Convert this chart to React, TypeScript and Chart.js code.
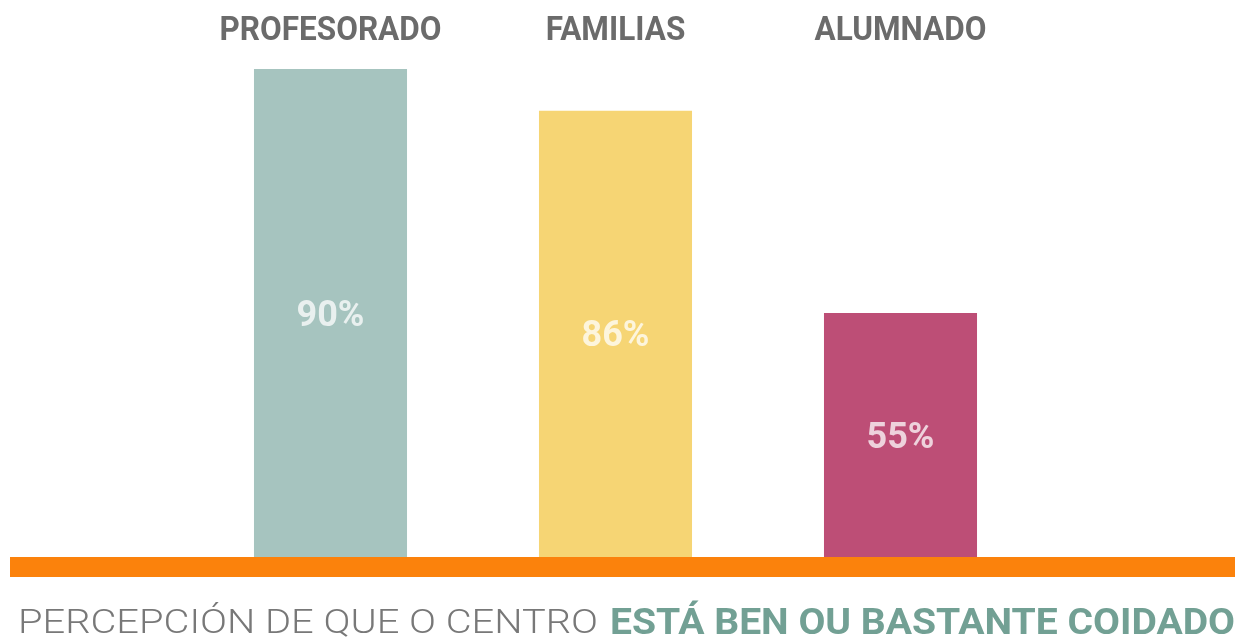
import React, { useEffect, useRef } from "react";
import { Chart, registerables } from "chart.js";

Chart.register(...registerables);

const categories = ["PROFESORADO", "FAMILIAS", "ALUMNADO"];
const percentLabels = ["90%", "86%", "55%"];
// bar heights as drawn in the picture (relative units, tallest bar = 90)
const barValues = [90, 82.3, 45];
const barColors = ["#a6c4bf", "#f6d574", "#bd4e76"];
const captionLight = "PERCEPCIÓN DE QUE O CENTRO";
const captionBold = "ESTÁ BEN OU BASTANTE COIDADO";

function drawCondensed(ctx: any, text: string, x: number, y: number, sx: number, align: string) {
  const w = ctx.measureText(text).width * sx;
  let left = x;
  if (align === "center") left = x - w / 2;
  ctx.save();
  ctx.translate(left, y);
  ctx.scale(sx, 1);
  ctx.textAlign = "left";
  ctx.fillText(text, 0, 0);
  ctx.restore();
}

const valueLabelPlugin = {
  id: "valueLabels",
  afterDatasetsDraw(chart: any) {
    const ctx = chart.ctx;
    const meta = chart.getDatasetMeta(0);
    ctx.save();
    ctx.font = 'bold 36px Roboto';
    ctx.fillStyle = "rgba(255,255,255,0.75)";
    ctx.textAlign = "center";
    ctx.textBaseline = "alphabetic";
    meta.data.forEach((bar: any, i: number) => {
      const cy = (bar.y + bar.base) / 2;
      ctx.fillText(percentLabels[i], bar.x, cy + 12.5);
    });
    ctx.restore();
  },
};

const categoryLabelPlugin = {
  id: "categoryLabels",
  afterDraw(chart: any) {
    const ctx = chart.ctx;
    const xs = chart.scales.x;
    ctx.save();
    ctx.font = 'bold 33px Roboto';
    ctx.fillStyle = "#6b6b6b";
    ctx.textBaseline = "alphabetic";
    const sx = 222 / ctx.measureText(categories[0]).width;
    categories.forEach((c, i) => {
      drawCondensed(ctx, c, xs.getPixelForTick(i), 40, sx, "center");
    });
    ctx.restore();
  },
};

const decorPlugin = {
  id: "decor",
  afterDraw(chart: any) {
    const ctx = chart.ctx;
    const area = chart.chartArea;
    ctx.save();
    // orange base band
    ctx.fillStyle = "#fb820c";
    ctx.fillRect(10, area.bottom, 1225, 20);
    // caption
    ctx.textBaseline = "alphabetic";
    ctx.font = '300 34px Roboto';
    ctx.fillStyle = "#787878";
    drawCondensed(ctx, captionLight, 18, 632.5, 580 / ctx.measureText(captionLight).width, "left");
    ctx.font = 'bold 36px Roboto';
    ctx.fillStyle = "#72a094";
    drawCondensed(ctx, captionBold, 610, 634, 625 / ctx.measureText(captionBold).width, "left");
    ctx.restore();
  },
};

export default function App() {
  const ref = useRef<HTMLCanvasElement>(null);
  useEffect(() => {
    document.body.style.margin = "0";
    const chart = new Chart(ref.current!, {
      type: "bar",
      data: {
        labels: categories,
        datasets: [
          {
            data: barValues,
            backgroundColor: barColors,
            borderWidth: 0,
            categoryPercentage: 1,
            barPercentage: 0.537,
          },
        ],
      },
      options: {
        animation: false,
        responsive: false,
        layout: { padding: { left: 188, right: 209, top: 69, bottom: 85 } },
        plugins: { legend: { display: false }, tooltip: { enabled: false }, title: { display: false } },
        scales: {
          x: { display: false },
          y: { display: false, min: 0, max: 90 },
        },
      },
      plugins: [valueLabelPlugin, categoryLabelPlugin, decorPlugin],
    });
    return () => chart.destroy();
  }, []);
  return (
    <div style={{ width: 1252, height: 642, background: "#fff" }}>
      <canvas ref={ref} width={1252} height={642} style={{ display: "block" }} />
    </div>
  );
}
